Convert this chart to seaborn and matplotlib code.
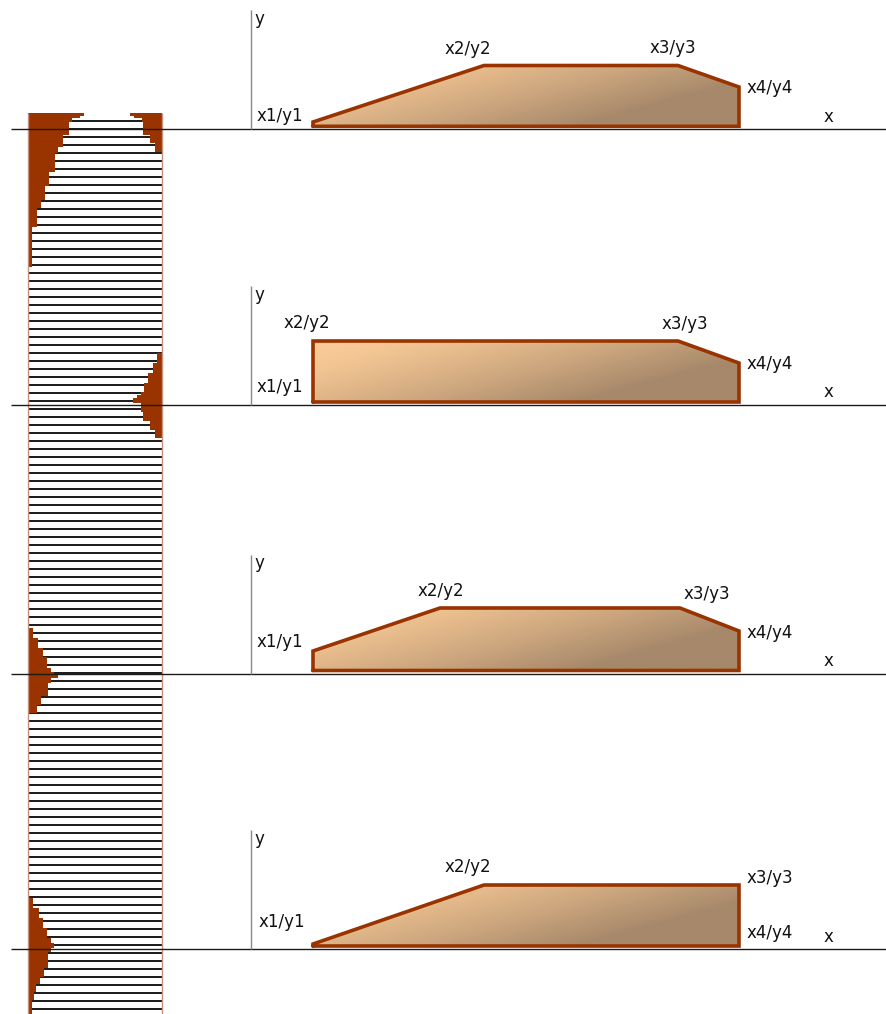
import numpy as np
import matplotlib
matplotlib.use("Agg")
import matplotlib.pyplot as plt
import seaborn as sns
from matplotlib.patches import Polygon

# ---- data (pixel units, y grows downward) ----
# brown profile along the left strip: y edges of each step and the edge x
blob1_left_y = [113, 116, 118.3, 122.3, 135, 146.7, 153.3, 171.7, 186, 200, 208.3, 226.7, 267]
blob1_left_x = [84.3, 80, 72.3, 69, 63.3, 58.3, 54.7, 49.3, 45, 40.7, 36.7, 31.7]
blob1_right_y = [113, 116, 118.3, 122.3, 135, 143.3, 152]
blob1_right_x = [130, 134.3, 141.7, 143.3, 150, 155]
blob2_right_y = [353.3, 363.3, 373.3, 383.3, 391.7, 395, 398.3, 403.3, 411.7, 421, 430, 437.7]
blob2_right_x = [157.3, 152.7, 148.3, 144.3, 141, 137.3, 133.3, 141, 142.7, 150, 155]
blob3_left_y = [628.3, 638.3, 648.3, 657.3, 667.7, 671.7, 674.3, 678.3, 683.3, 696, 705, 712.7]
blob3_left_x = [33.3, 38.3, 43.3, 47.3, 50.7, 54.3, 57.7, 50.7, 48.3, 41, 36.7]
blob4_left_y = [898.3, 908.3, 918.3, 928.3, 938.3, 943.3, 948.3, 951.7, 968.3, 976.7, 984, 991.7, 1000, 1014]
blob4_left_x = [33.3, 38.7, 43.3, 47.3, 51, 54, 51, 48.3, 44, 40, 36, 34, 31.7]

# the four profile shapes (x1/y1 ... x4/y4 plus the bottom corners)
shape1_x = [313, 313, 484, 678, 739, 739, 313]
shape1_y = [126.3, 122, 65.5, 65.5, 87, 126.3, 126.3]
shape2_x = [313, 313, 678, 739, 739, 313]
shape2_y = [402, 341, 341, 363, 402, 402]
shape3_x = [313, 313, 440, 680, 739, 739, 313]
shape3_y = [670.5, 651, 608, 608, 631, 670.5, 670.5]
shape4_x = [313, 313, 484, 739, 739, 313]
shape4_y = [946, 944, 885, 885, 946, 946]

ground_y = [129.3, 405, 673.5, 949]

labels = ["y", "x1/y1", "x2/y2", "x3/y3", "x4/y4", "x"]
label_pos = [
    {"y": (254, 24), "x1/y1": (257, 120.7), "x2/y2": (445, 54), "x3/y3": (650, 53.3), "x4/y4": (747, 93.3), "x": (824, 121.7)},
    {"y": (254, 300), "x1/y1": (257, 392), "x2/y2": (284, 328), "x3/y3": (662, 329), "x4/y4": (747, 369), "x": (824, 397)},
    {"y": (254, 568), "x1/y1": (257, 647), "x2/y2": (418, 596), "x3/y3": (684, 599), "x4/y4": (747, 638), "x": (824, 666)},
    {"y": (254, 844), "x1/y1": (259, 927), "x2/y2": (445, 872), "x3/y3": (747, 883), "x4/y4": (747, 938), "x": (824, 942)},
]

BROWN = "#993300"
STRIP_L, STRIP_R = 28.5, 162

sns.set_theme(style="white")
plt.rcParams['font.family'] = ['DejaVu Sans']

fig = plt.figure(figsize=(8.87, 10.14), dpi=100)
ax = fig.add_axes([0, 0, 1, 1])

# strip with horizontal lines
line_y = 120.7 + 8.0 * np.arange(112)
ax.hlines(line_y, STRIP_L, STRIP_R, color="#111111", lw=1.35, zorder=1)


def step_fill(ys, xs, side):
    xx = list(xs) + [xs[-1]]
    base = STRIP_L if side == "left" else STRIP_R
    ax.fill_betweenx(ys, base, xx, step="post", color=BROWN, lw=0, zorder=2)


step_fill(blob1_left_y, blob1_left_x, "left")
step_fill(blob1_right_y, blob1_right_x, "right")
step_fill(blob2_right_y, blob2_right_x, "right")
step_fill(blob3_left_y, blob3_left_x, "left")
step_fill(blob4_left_y, blob4_left_x, "left")

ax.vlines([STRIP_L, STRIP_R], 113, 1014, color="#c8907a", lw=1.0, zorder=3)

# ground lines and y axes
ax.hlines(ground_y, 11, 887, color="#1a1a1a", lw=1.0, zorder=4)
ax.vlines([251] * 4, [g - 119 for g in ground_y], ground_y, color="#888888", lw=1.0, zorder=4)

light = np.array([249, 202, 150]) / 255
dark = np.array([166, 136, 106]) / 255


def gradient_shape(xs, ys):
    x0, x1 = min(xs), max(xs)
    y0, y1 = min(ys), max(ys)
    u = np.linspace(0, 1, 300)[None, :]
    v = np.linspace(0, 1, 80)[:, None]
    t = np.clip(0.95 * u + 0.5 * v - 0.1, 0, 1) ** 1.25
    rgb = light * (1 - t)[..., None] + dark * t[..., None]
    im = ax.imshow(rgb, extent=(x0, x1, y1, y0), origin="upper", aspect="auto",
                   interpolation="bilinear", zorder=5)
    patch = Polygon(np.column_stack([xs, ys]), closed=True, fc="none", ec="none")
    ax.add_patch(patch)
    im.set_clip_path(patch)
    sns.lineplot(x=xs, y=ys, sort=False, estimator=None, color=BROWN, lw=2.6,
                 ax=ax, zorder=6, solid_joinstyle="miter")


for sx, sy in [(shape1_x, shape1_y), (shape2_x, shape2_y), (shape3_x, shape3_y), (shape4_x, shape4_y)]:
    gradient_shape(sx, sy)

for pos in label_pos:
    for lab in labels:
        px, py = pos[lab]
        ax.text(px, py, lab, fontsize=12, ha="left", va="baseline", color="#111111", zorder=7)

ax.set_xlim(0, 887)
ax.set_ylim(1014, 0)
ax.axis("off")

fig.savefig("out.png", dpi=100)
